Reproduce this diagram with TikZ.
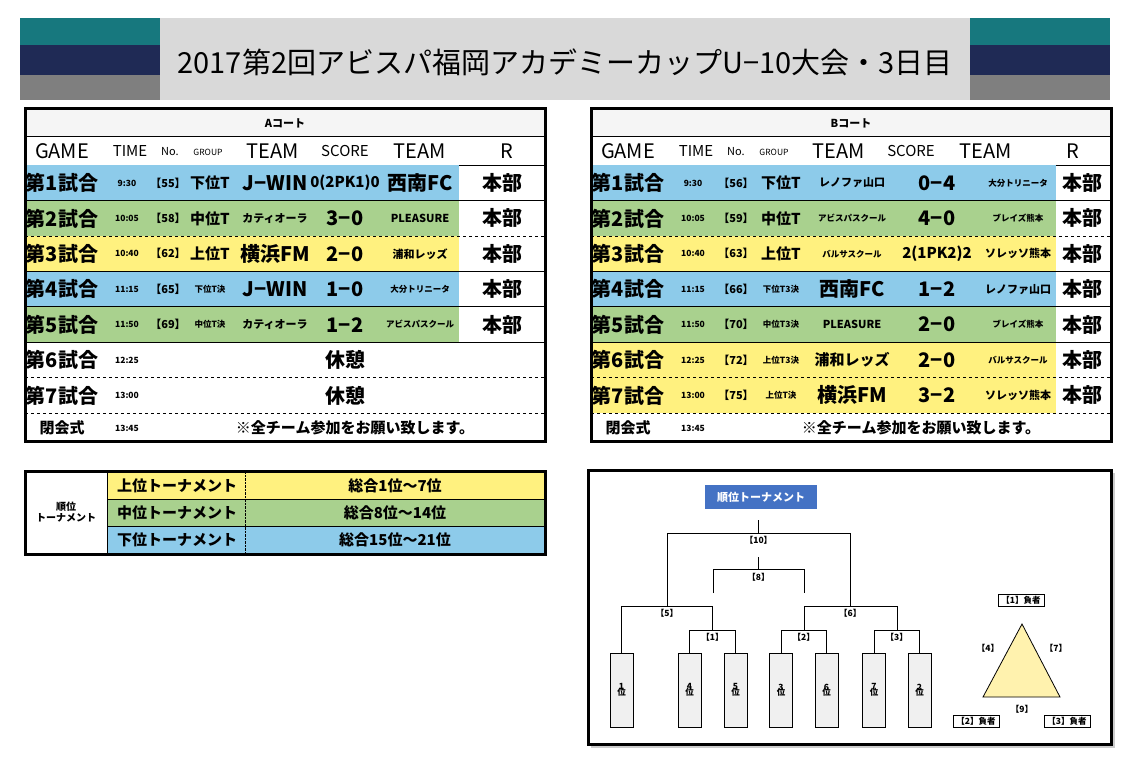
\documentclass[tikz,border=0pt]{standalone}
\usepackage{fontspec}
\setmainfont{Noto Sans CJK JP}
\usetikzlibrary{positioning}
\definecolor{rowblue}{HTML}{8DCBEA}
\definecolor{rowgreen}{HTML}{A9D18E}
\definecolor{rowyellow}{HTML}{FFF17F}
\definecolor{bandteal}{HTML}{17787E}
\definecolor{bandnavy}{HTML}{1F2A55}
\definecolor{bandgray}{HTML}{7F7F7F}
\definecolor{titleblue}{HTML}{4472C4}
\definecolor{triyellow}{HTML}{FFF2AE}
\newcommand\fL{\fontsize{20}{20}\selectfont}
\newcommand\fM{\fontsize{15}{15}\selectfont}
\newcommand\fS{\fontsize{11}{11}\selectfont}
\newcommand\fT{\fontsize{8.5}{8.5}\selectfont}
\tikzset{
  cell/.style={inner sep=0pt,anchor=center},
  rank/.style={draw,fill=gray!12,minimum width=23pt,minimum height=74pt,inner sep=0pt,font=\fT\bfseries,align=center},
  loser/.style={draw,minimum width=46pt,minimum height=12pt,inner sep=0pt,font=\fT\bfseries},
  mlabel/.style={font=\fT\bfseries,inner sep=1pt}
}

\begin{document}
\begin{tikzpicture}[x=1pt,y=-1pt]
  \fill [white] (0,0) rectangle (1142,761);
  \useasboundingbox (0,0) rectangle (1142,761);

  % title band
  \fill [gray!30] (160,18) rectangle (970,100);
  \foreach \bx in {20,970} {
    \fill [bandteal] (\bx,18) rectangle (\bx+140,45);
    \fill [bandnavy] (\bx,45) rectangle (\bx+140,75);
    \fill [bandgray] (\bx,75) rectangle (\bx+140,100);
  }
  \node [cell,font=\fontsize{29}{29}\selectfont] (title) at (565,62) {2017第2回アビスパ福岡アカデミーカップU−10大会・3日目};

  % court tables
  \foreach \ox/\court in {0/A,566/B} {
    \fill [gray!8] (\ox+25,108) rectangle (\ox+545,136);
    \node [cell,font=\fS\bfseries] (court\court) at (\ox+285,123) {\court コート};
    \draw (\ox+25,136) -- (\ox+545,136) (\ox+25,165) -- (\ox+545,165);
    \node [cell,font=\fL] (hgame\court) at (\ox+62,151) {GAME};
    \node [cell,font=\fM] (htime\court) at (\ox+130,151) {TIME};
    \node [cell,font=\fS] (hno\court) at (\ox+170,152) {No.};
    \node [cell,font=\fT] (hgroup\court) at (\ox+208,152) {GROUP};
    \node [cell,font=\fL] (hteamA\court) at (\ox+273,151) {TEAM};
    \node [cell,font=\fM] (hscore\court) at (\ox+345,151) {SCORE};
    \node [cell,font=\fL] (hteamB\court) at (\ox+420,151) {TEAM};
    \node [cell,font=\fL] (hr\court) at (\ox+507,151) {R};
  }

  \begin{scope}[font=\bfseries]
  % A court rows
  \foreach \i/\c/\t/\n/\g/\ta/\s/\tb in {
      1/rowblue/9:30/【55】/{\fM 下位T}/{\fL J−WIN}/{\fM 0(2PK1)0}/{\fL 西南FC},
      2/rowgreen/10:05/【58】/{\fM 中位T}/{\fS カティオーラ}/{\fL 3−0}/{\fS PLEASURE},
      3/rowyellow/10:40/【62】/{\fM 上位T}/{\fL 横浜FM}/{\fL 2−0}/{\fS 浦和レッズ},
      4/rowblue/11:15/【65】/{\fT 下位T決}/{\fL J−WIN}/{\fL 1−0}/{\fT 大分トリニータ},
      5/rowgreen/11:50/【69】/{\fT 中位T決}/{\fS カティオーラ}/{\fL 1−2}/{\fT アビスパスクール}} {
    \pgfmathsetmacro\yt{165+35.4*(\i-1)}
    \fill [\c] (27,\yt) rectangle (459,\yt+35.4);
    \node [cell,font=\fL\bfseries] (ga\i) at (62,\yt+18) {第\i 試合};
    \node [cell,font=\fT\bfseries] (ta\i) at (127,\yt+18) {\t};
    \node [cell,font=\fS\bfseries] (na\i) at (168,\yt+18) {\n};
    \node [cell] (pa\i) at (210,\yt+18) {\g};
    \node [cell] (xa\i) at (275,\yt+18) {\ta};
    \node [cell] (sa\i) at (345,\yt+18) {\s};
    \node [cell] (ya\i) at (420,\yt+18) {\tb};
    \node [cell,font=\fL\bfseries] (ra\i) at (502,\yt+18) {本部};
  }
  \foreach \i/\t in {6/12:25,7/13:00} {
    \pgfmathsetmacro\yt{165+35.4*(\i-1)}
    \node [cell,font=\fL\bfseries] (ga\i) at (62,\yt+18) {第\i 試合};
    \node [cell,font=\fT\bfseries] (ta\i) at (127,\yt+18) {\t};
    \node [cell,font=\fL\bfseries] (ka\i) at (345,\yt+18) {休憩};
  }

  % B court rows
  \foreach \i/\c/\t/\n/\g/\ta/\s/\tb in {
      1/rowblue/9:30/【56】/{\fM 下位T}/{\fS レノファ山口}/{\fL 0−4}/{\fT 大分トリニータ},
      2/rowgreen/10:05/【59】/{\fM 中位T}/{\fT アビスパスクール}/{\fL 4−0}/{\fT ブレイズ熊本},
      3/rowyellow/10:40/【63】/{\fM 上位T}/{\fT バルサスクール}/{\fM 2(1PK2)2}/{\fS ソレッソ熊本},
      4/rowblue/11:15/【66】/{\fT 下位T3決}/{\fL 西南FC}/{\fL 1−2}/{\fS レノファ山口},
      5/rowgreen/11:50/【70】/{\fT 中位T3決}/{\fS PLEASURE}/{\fL 2−0}/{\fT ブレイズ熊本},
      6/rowyellow/12:25/【72】/{\fT 上位T3決}/{\fM 浦和レッズ}/{\fL 2−0}/{\fT バルサスクール},
      7/rowyellow/13:00/【75】/{\fT 上位T決}/{\fL 横浜FM}/{\fL 3−2}/{\fS ソレッソ熊本}} {
    \pgfmathsetmacro\yt{165+35.4*(\i-1)}
    \fill [\c] (593,\yt) rectangle (1056,\yt+35.4);
    \node [cell,font=\fL\bfseries] (gb\i) at (628,\yt+18) {第\i 試合};
    \node [cell,font=\fT\bfseries] (tb\i) at (693,\yt+18) {\t};
    \node [cell,font=\fS\bfseries] (nb\i) at (736,\yt+18) {\n};
    \node [cell] (pb\i) at (781,\yt+18) {\g};
    \node [cell] (xb\i) at (852,\yt+18) {\ta};
    \node [cell] (sb\i) at (937,\yt+18) {\s};
    \node [cell] (yb\i) at (1018,\yt+18) {\tb};
    \node [cell,font=\fL\bfseries] (rb\i) at (1082,\yt+18) {本部};
  }

  % closing row and rules
  \foreach \ox/\court in {0/A,566/B} {
    \node [cell,font=\fM\bfseries] (close\court) at (\ox+62,428) {閉会式};
    \node [cell,font=\fT\bfseries] (ctime\court) at (\ox+127,428) {13:45};
    \node [cell,font=\fM\bfseries] (note\court) at (\ox+355,428) {※全チーム参加をお願い致します。};
    \foreach \i in {1,3,4,5} \draw [thin] (\ox+25,165+35.4*\i) -- (\ox+545,165+35.4*\i);
    \foreach \i in {2,6,7} \draw [thin,dashed] (\ox+25,165+35.4*\i) -- (\ox+545,165+35.4*\i);
    \draw [line width=3pt] (\ox+25,108) rectangle (\ox+545,441);
  }

  % legend
  \fill [rowyellow] (107,472) rectangle (545,499);
  \fill [rowgreen] (107,499) rectangle (545,526);
  \fill [rowblue] (107,526) rectangle (545,553);
  \draw (107,472) -- (107,553) (107,499) -- (545,499) (107,526) -- (545,526);
  \draw [densely dotted] (245,472) -- (245,553);
  \draw [line width=3pt] (25,471) rectangle (545,554);
  \node [cell,font=\fontsize{10}{11}\selectfont\bfseries,align=center] (lgnd) at (66,512) {順位\\トーナメント};
  \foreach \i/\a/\b in {0/上位トーナメント/総合1位～7位,1/中位トーナメント/総合8位～14位,2/下位トーナメント/総合15位～21位} {
    \node [cell,font=\fM\bfseries] (lk\i) at (177,485.5+27*\i) {\a};
    \node [cell,font=\fM\bfseries] (lv\i) at (395,485.5+27*\i) {\b};
  }
  \end{scope}

  % bracket frame
  \fill [gray!40] (591,473) rectangle (1115,748);
  \draw [line width=3pt,fill=white] (588,470) rectangle (1111,744);
  \node [fill=titleblue,text=white,font=\fS\bfseries,minimum width=112pt,minimum height=24pt,inner sep=0pt] (btitle) at (761,497) {順位トーナメント};

  % rank boxes
  \foreach \x/\r in {621.5/1,689.5/4,735.5/5,781/3,826.5/6,874/7,919.5/2}
    \node [rank] (r\r) at (\x,690) {\r\\[-3pt]位};

  % matches
  \coordinate (m1) at (712.5,630);
  \coordinate (m2) at (803.75,630);
  \coordinate (m3) at (896.75,630);
  \coordinate (m5) at (667,606);
  \coordinate (m6) at (850.25,606);
  \draw (r4.north) |- (m1) -| (r5.north);
  \draw (r3.north) |- (m2) -| (r6.north);
  \draw (r7.north) |- (m3) -| (r2.north);
  \draw (r1.north) |- (m5) -| (m1);
  \draw (m2) |- (m6) -| (m3);
  \draw (m5) |- (758.5,533) -| (m6);
  \draw (758.5,533) -- (758.5,520);
  \draw (713,593) |- (758.5,569) -| (804,593);
  \draw (758.5,569) -- (758.5,557);
  \node [mlabel] (l1) at (712.5,637) {【1】};
  \node [mlabel] (l2) at (803.75,637) {【2】};
  \node [mlabel] (l3) at (896.75,637) {【3】};
  \node [mlabel] (l5) at (667,613) {【5】};
  \node [mlabel] (l6) at (850.25,613) {【6】};
  \node [mlabel] (l10) at (758.5,540) {【10】};
  \node [mlabel] (l8) at (758.5,577) {【8】};

  % league triangle
  \draw [thick,fill=triyellow] (1022,624) -- (1060,697) -- (983,697) -- cycle;
  \node [loser] (lose1) at (1021,600) {【1】負者};
  \node [loser] (lose2) at (976,721) {【2】負者};
  \node [loser] (lose3) at (1067,721) {【3】負者};
  \node [mlabel] (l4) at (988,648) {【4】};
  \node [mlabel] (l7) at (1056,648) {【7】};
  \node [mlabel] (l9) at (1022,709) {【9】};
\end{tikzpicture}
\end{document}
